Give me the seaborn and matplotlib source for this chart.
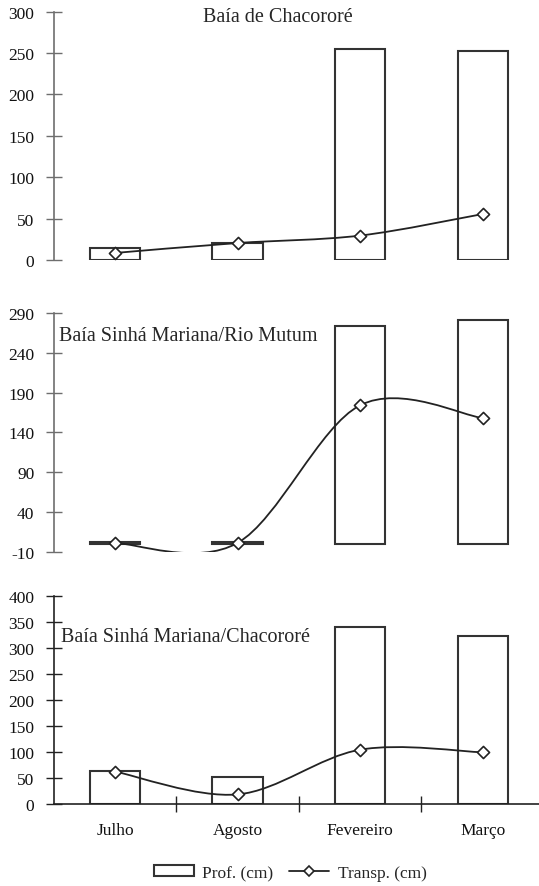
import numpy as np
import pandas as pd
import seaborn as sns
import matplotlib.pyplot as plt
from matplotlib.path import Path
from matplotlib.patches import PathPatch, Patch
from matplotlib.lines import Line2D

# data
meses = ['Julho', 'Agosto', 'Fevereiro', 'Março']

prof_chacorore = [14, 20, 255, 252]
transp_chacorore = [8.5, 20.5, 29.5, 55.5]

prof_mutum = [2, 2, 274, 281]
transp_mutum = [1, 1, 174, 158]

prof_sinha = [64, 52, 341, 324]
transp_sinha = [63, 19, 105, 100]

titulos = ['Baía de Chacororé', 'Baía Sinhá Mariana/Rio Mutum', 'Baía Sinhá Mariana/Chacororé']

sns.set_theme(style='white')
plt.rcParams['font.family'] = ['Liberation Serif', 'DejaVu Serif']
plt.rcParams['axes.unicode_minus'] = False

EDGE = '#333333'
LINE = '#222222'


def smooth_path(xs, ys):
    # excel-like smoothed line: cubic bezier through the points
    pts = np.column_stack([xs, ys]).astype(float)
    ext = np.vstack([pts[0], pts, pts[-1]])
    verts = [pts[0]]
    codes = [Path.MOVETO]
    for i in range(len(pts) - 1):
        p0, p1, p2, p3 = ext[i], ext[i + 1], ext[i + 2], ext[i + 3]
        verts += [p1 + (p2 - p0) / 6, p2 - (p3 - p1) / 6, p2]
        codes += [Path.CURVE4] * 3
    return Path(verts, codes)


def painel(ax, prof, transp, ylim, yticks, spine_color):
    df = pd.DataFrame({'mes': meses, 'prof': prof})
    sns.barplot(data=df, x='mes', y='prof', order=meses, ax=ax, color='white',
                edgecolor=EDGE, linewidth=1.5, width=0.41, zorder=2)
    pos = np.arange(len(meses))
    ax.add_patch(PathPatch(smooth_path(pos, transp), fill=False,
                           edgecolor=LINE, lw=1.3, zorder=3))
    sns.scatterplot(x=pos, y=transp, ax=ax, marker='D', s=38, color='white',
                    edgecolor=LINE, linewidth=1.2, zorder=4, legend=False)
    ax.set_xlim(-0.5, 3.46)
    ax.set_ylim(*ylim)
    ax.set_yticks(yticks)
    ax.set_xlabel('')
    ax.set_ylabel('')
    for s in ['top', 'right', 'bottom']:
        ax.spines[s].set_visible(False)
    ax.spines['left'].set_color(spine_color)
    ax.spines['left'].set_linewidth(1.2)
    ax.tick_params(axis='y', left=True, direction='inout', length=12, width=1.0,
                   color=spine_color, labelsize=12.5, pad=8, labelcolor='#111111')
    ax.patch.set_alpha(0)


fig = plt.figure(figsize=(5.39, 8.87), dpi=100)
H = 887.0
x0 = 53.7 / 539
ax1 = fig.add_axes([x0, (H - 261) / H, 1 - x0, (261 - 12.7) / H])
ax2 = fig.add_axes([x0, (H - 552.7) / H, 1 - x0, (552.7 - 314) / H])
ax3 = fig.add_axes([x0, (H - 805.3) / H, 1 - x0, (805.3 - 597.3) / H])

painel(ax1, prof_chacorore, transp_chacorore, (0, 300), range(0, 301, 50), '#6e6e6e')
painel(ax2, prof_mutum, transp_mutum, (-10, 290), range(-10, 291, 50), '#6e6e6e')
painel(ax3, prof_sinha, transp_sinha, (0, 400), range(0, 401, 50), '#222222')

for ax in (ax1, ax2):
    ax.set_xticks([])

ax3.spines['bottom'].set_visible(True)
ax3.spines['bottom'].set_color('#222222')
ax3.spines['bottom'].set_linewidth(1.2)
ax3.set_xticks([0.5, 1.5, 2.5])
ax3.set_xticklabels([])
ax3.set_xticks(range(len(meses)), minor=True)
ax3.set_xticklabels(meses, minor=True)
ax3.tick_params(axis='x', which='major', direction='inout', length=12,
                width=1.0, color='#222222', bottom=True)
ax3.tick_params(axis='x', which='minor', length=0, labelsize=12.5, pad=13,
                labelcolor='#111111', bottom=True)

# panel titles
fig.text(278 / 539, (H - 17) / H, titulos[0], ha='center', va='center', fontsize=14.5)
fig.text(59 / 539, (H - 336.5) / H, titulos[1], ha='left', va='center', fontsize=14.5)
fig.text(61 / 539, (H - 638) / H, titulos[2], ha='left', va='center', fontsize=14.5)

handles = [Patch(facecolor='white', edgecolor=EDGE, linewidth=1.5),
           Line2D([0], [0], color=LINE, lw=1.3, marker='D', markersize=5.5,
                  markerfacecolor='white', markeredgecolor=LINE, markeredgewidth=1.2)]
fig.legend(handles, ['Prof. (cm)', 'Transp. (cm)'], loc='center',
           bbox_to_anchor=(290 / 539, 13 / H), ncol=2, frameon=False,
           fontsize=12.5, handlelength=2.3, handleheight=0.6, columnspacing=0.9,
           handletextpad=0.5)

fig.savefig('out.png', dpi=100)
